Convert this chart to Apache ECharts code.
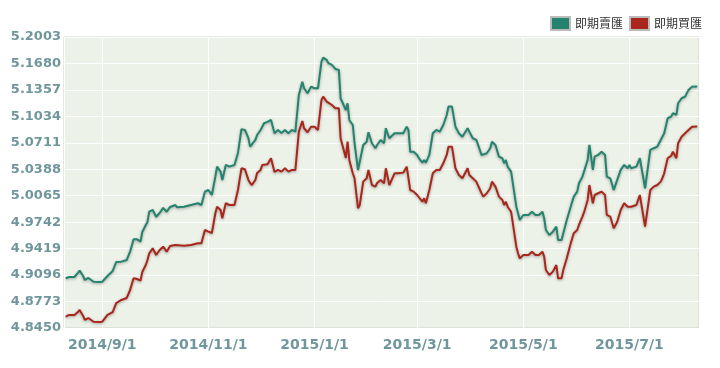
<!DOCTYPE html>
<html>
<head>
<meta charset="utf-8">
<script src="https://cdn.jsdelivr.net/npm/echarts@6/dist/echarts.min.js"></script>
<style>html,body{margin:0;padding:0;background:#fff}#c{width:720px;height:368px}</style>
</head>
<body>
<div id="c"></div>
<script>
const seriesNames = ['即期賣匯', '即期買匯'];
const dates = [
'2014-08-11','2014-08-13','2014-08-16','2014-08-18','2014-08-19','2014-08-21','2014-08-22','2014-08-24','2014-08-25','2014-08-27',
'2014-08-30','2014-09-01','2014-09-04','2014-09-05','2014-09-07','2014-09-09','2014-09-10','2014-09-12','2014-09-15','2014-09-17',
'2014-09-19','2014-09-21','2014-09-23','2014-09-24','2014-09-26','2014-09-27','2014-09-28','2014-09-30','2014-10-02','2014-10-04',
'2014-10-06','2014-10-08','2014-10-10','2014-10-13','2014-10-14','2014-10-18','2014-10-22','2014-10-26','2014-10-28','2014-10-30',
'2014-11-01','2014-11-03','2014-11-05','2014-11-06','2014-11-08','2014-11-09','2014-11-11','2014-11-13','2014-11-16','2014-11-18',
'2014-11-20','2014-11-22','2014-11-24','2014-11-25','2014-11-26','2014-11-28','2014-11-29','2014-12-01','2014-12-02','2014-12-03',
'2014-12-05','2014-12-07','2014-12-09','2014-12-11','2014-12-13','2014-12-15','2014-12-17','2014-12-19','2014-12-21','2014-12-23',
'2014-12-25','2014-12-26','2014-12-28','2014-12-30','2015-01-01','2015-01-03','2015-01-05','2015-01-06','2015-01-08','2015-01-09',
'2015-01-11','2015-01-13','2015-01-15','2015-01-16','2015-01-17','2015-01-19','2015-01-20','2015-01-21','2015-01-23','2015-01-24',
'2015-01-26','2015-01-27','2015-01-29','2015-01-31','2015-02-01','2015-02-03','2015-02-05','2015-02-06','2015-02-08','2015-02-10',
'2015-02-11','2015-02-13','2015-02-14','2015-02-16','2015-02-18','2015-02-21','2015-02-23','2015-02-24','2015-02-25','2015-02-27',
'2015-03-01','2015-03-02','2015-03-04','2015-03-05','2015-03-06','2015-03-08','2015-03-10','2015-03-12','2015-03-14','2015-03-16',
'2015-03-18','2015-03-19','2015-03-21','2015-03-23','2015-03-25','2015-03-27','2015-03-28','2015-03-30','2015-03-31','2015-04-02',
'2015-04-04','2015-04-05','2015-04-07','2015-04-08','2015-04-10','2015-04-12','2015-04-13','2015-04-15','2015-04-17','2015-04-19',
'2015-04-20','2015-04-21','2015-04-22','2015-04-24','2015-04-25','2015-04-27','2015-04-28','2015-04-29','2015-05-01','2015-05-04',
'2015-05-06','2015-05-08','2015-05-10','2015-05-12','2015-05-13','2015-05-14','2015-05-16','2015-05-18','2015-05-20','2015-05-21',
'2015-05-23','2015-05-24','2015-05-26','2015-05-28','2015-05-30','2015-06-01','2015-06-02','2015-06-04','2015-06-05','2015-06-07',
'2015-06-08','2015-06-10','2015-06-11','2015-06-13','2015-06-15','2015-06-17','2015-06-18','2015-06-20','2015-06-22','2015-06-24',
'2015-06-26','2015-06-27','2015-06-28','2015-06-30','2015-07-01','2015-07-02','2015-07-05','2015-07-07','2015-07-08','2015-07-10',
'2015-07-11','2015-07-13','2015-07-15','2015-07-17','2015-07-19','2015-07-20','2015-07-21','2015-07-23','2015-07-25','2015-07-26',
'2015-07-28','2015-07-29','2015-07-31','2015-08-02','2015-08-04','2015-08-06','2015-08-07','2015-08-09'
];
const sellRate = [
4.9057,4.9073,4.9073,4.9122,4.9150,4.9085,4.9036,4.9061,4.9061,4.9015,
4.9012,4.9015,4.9085,4.9097,4.9146,4.9256,4.9280,4.9260,4.9280,4.9382,
4.9533,4.9533,4.9504,4.9622,4.9708,4.9745,4.9870,4.9891,4.9809,4.9854,
4.9916,4.9870,4.9928,4.9952,4.9924,4.9931,4.9952,4.9973,4.9952,5.0115,
5.0135,5.0074,5.0298,5.0420,5.0359,5.0258,5.0441,5.0420,5.0441,5.0587,
5.0877,5.0868,5.0767,5.0664,5.0664,5.0746,5.0807,5.0868,5.0847,5.0950,
5.0966,5.0990,5.0828,5.0868,5.0832,5.0868,5.0828,5.0868,5.0847,5.1296,
5.1458,5.1377,5.1316,5.1397,5.1377,5.1377,5.1702,5.1751,5.1723,5.1683,
5.1662,5.1613,5.1601,5.1255,5.1235,5.1112,5.1194,5.0990,5.0929,5.0706,
5.0380,5.0400,5.0685,5.0725,5.0840,5.0706,5.0645,5.0685,5.0746,5.0706,
5.0889,5.0767,5.0746,5.0828,5.0828,5.0828,5.0908,5.0868,5.0603,5.0603,
5.0563,5.0523,5.0469,5.0502,5.0469,5.0563,5.0828,5.0868,5.0847,5.0929,
5.1051,5.1153,5.1153,5.0908,5.0828,5.0786,5.0786,5.0889,5.0847,5.0767,
5.0746,5.0685,5.0563,5.0563,5.0584,5.0645,5.0725,5.0685,5.0542,5.0523,
5.0461,5.0502,5.0420,5.0359,5.0359,4.9931,4.9851,4.9769,4.9830,4.9830,
4.9870,4.9830,4.9830,4.9870,4.9790,4.9647,4.9586,4.9626,4.9687,4.9525,
4.9525,4.9607,4.9769,4.9912,5.0054,5.0115,5.0217,5.0298,5.0319,5.0502,
5.0685,5.0380,5.0542,5.0563,5.0603,5.0563,5.0298,5.0278,5.0135,5.0258,
5.0380,5.0380,5.0441,5.0400,5.0441,5.0400,5.0420,5.0523,5.0523,5.0156,
5.0144,5.0624,5.0645,5.0664,5.0746,5.0767,5.0828,5.1011,5.1031,5.1072,
5.1051,5.1194,5.1255,5.1275,5.1357,5.1397,5.1406,5.1400
];
const buyRate = [
4.8588,4.8609,4.8609,4.8645,4.8670,4.8597,4.8548,4.8572,4.8568,4.8527,
4.8523,4.8527,4.8609,4.8621,4.8645,4.8755,4.8771,4.8792,4.8816,4.8914,
4.9057,4.9048,4.9028,4.9134,4.9219,4.9280,4.9362,4.9423,4.9342,4.9403,
4.9443,4.9382,4.9451,4.9464,4.9443,4.9455,4.9464,4.9484,4.9484,4.9647,
4.9626,4.9610,4.9851,4.9931,4.9891,4.9790,4.9973,4.9952,4.9952,5.0135,
5.0400,5.0388,5.0258,5.0221,5.0196,5.0258,5.0343,5.0380,5.0441,5.0449,
5.0449,5.0523,5.0355,5.0380,5.0359,5.0400,5.0359,5.0380,5.0380,5.0847,
5.0978,5.0889,5.0840,5.0908,5.0908,5.0868,5.1235,5.1275,5.1214,5.1194,
5.1173,5.1133,5.1133,5.0767,5.0746,5.0526,5.0725,5.0502,5.0339,5.0278,
4.9912,4.9952,5.0237,5.0278,5.0380,5.0196,5.0176,5.0221,5.0258,5.0217,
5.0400,5.0196,5.0176,5.0339,5.0339,5.0347,5.0420,5.0420,5.0135,5.0115,
5.0074,5.0074,4.9992,5.0034,4.9973,5.0135,5.0339,5.0380,5.0380,5.0461,
5.0563,5.0664,5.0664,5.0400,5.0319,5.0278,5.0278,5.0400,5.0319,5.0278,
5.0237,5.0237,5.0095,5.0054,5.0095,5.0156,5.0237,5.0176,5.0054,5.0013,
4.9952,4.9992,4.9931,4.9870,4.9851,4.9443,4.9362,4.9301,4.9342,4.9342,
4.9382,4.9342,4.9342,4.9382,4.9321,4.9158,4.9097,4.9138,4.9219,4.9057,
4.9057,4.9158,4.9301,4.9464,4.9607,4.9647,4.9708,4.9809,4.9867,5.0013,
5.0196,4.9973,5.0074,5.0095,5.0115,5.0074,4.9830,4.9809,4.9668,4.9748,
4.9891,4.9912,4.9973,4.9931,4.9931,4.9931,4.9952,5.0074,5.0054,4.9687,
4.9668,5.0135,5.0176,5.0196,5.0237,5.0282,5.0339,5.0523,5.0551,5.0603,
5.0523,5.0706,5.0786,5.0828,5.0868,5.0908,5.0917,5.0911
];
const yMin = 4.8450, yMax = 5.2003, yStep = 0.0323;
const xMin = '2014-08-10', xMax = '2015-08-10';

const labelColor = '#6f979b';
const chart = echarts.init(document.getElementById('c'), null, {renderer: 'canvas'});
const pair = arr => dates.map((d, i) => [d, arr[i]]);
chart.setOption({
  animation: false,
  backgroundColor: '#ffffff',
  legend: {
    right: 13, top: 11,
    itemWidth: 19, itemHeight: 13, itemGap: 6,
    icon: 'rect',
    textStyle: {fontSize: 12, color: '#333', fontFamily: '"Noto Sans CJK TC", sans-serif'},
    data: seriesNames
  },
  grid: {
    left: 64, right: 21, top: 37, bottom: 40,
    show: true, backgroundColor: '#edf2e8', borderColor: '#cdd1c9', borderWidth: 1
  },
  xAxis: {
    type: 'time', min: xMin, max: xMax,
    axisLine: {show: false}, axisTick: {show: false},
    splitLine: {show: true, lineStyle: {color: '#ffffff', width: 1}},
    axisLabel: {
      color: labelColor, fontWeight: 'bold', fontSize: 14, fontFamily: '"DejaVu Sans", sans-serif', margin: 10,
      formatter: v => { const d = new Date(v); return d.getFullYear() + '/' + (d.getMonth() + 1) + '/' + d.getDate(); }
    }
  },
  yAxis: {
    type: 'value', min: yMin, max: yMax, interval: yStep,
    axisLine: {show: false}, axisTick: {show: false},
    splitLine: {lineStyle: {color: '#ffffff', width: 1}},
    axisLabel: {
      color: labelColor, fontWeight: 'bold', fontSize: 13, fontFamily: '"DejaVu Sans", sans-serif', margin: 3,
      formatter: v => v.toFixed(4)
    }
  },
  series: [
    {
      name: seriesNames[0], type: 'line', data: pair(sellRate), showSymbol: false, symbol: 'none',
      itemStyle: {color: '#23836f', borderColor: '#bbb', borderWidth: 1},
      lineStyle: {color: '#23836f', width: 2, shadowColor: 'rgba(0,0,0,0.35)', shadowBlur: 3, shadowOffsetY: 1}
    },
    {
      name: seriesNames[1], type: 'line', data: pair(buyRate), showSymbol: false, symbol: 'none',
      itemStyle: {color: '#a8261b', borderColor: '#bbb', borderWidth: 1},
      lineStyle: {color: '#a8261b', width: 2, shadowColor: 'rgba(0,0,0,0.35)', shadowBlur: 3, shadowOffsetY: 1}
    }
  ]
});
</script>
</body>
</html>
